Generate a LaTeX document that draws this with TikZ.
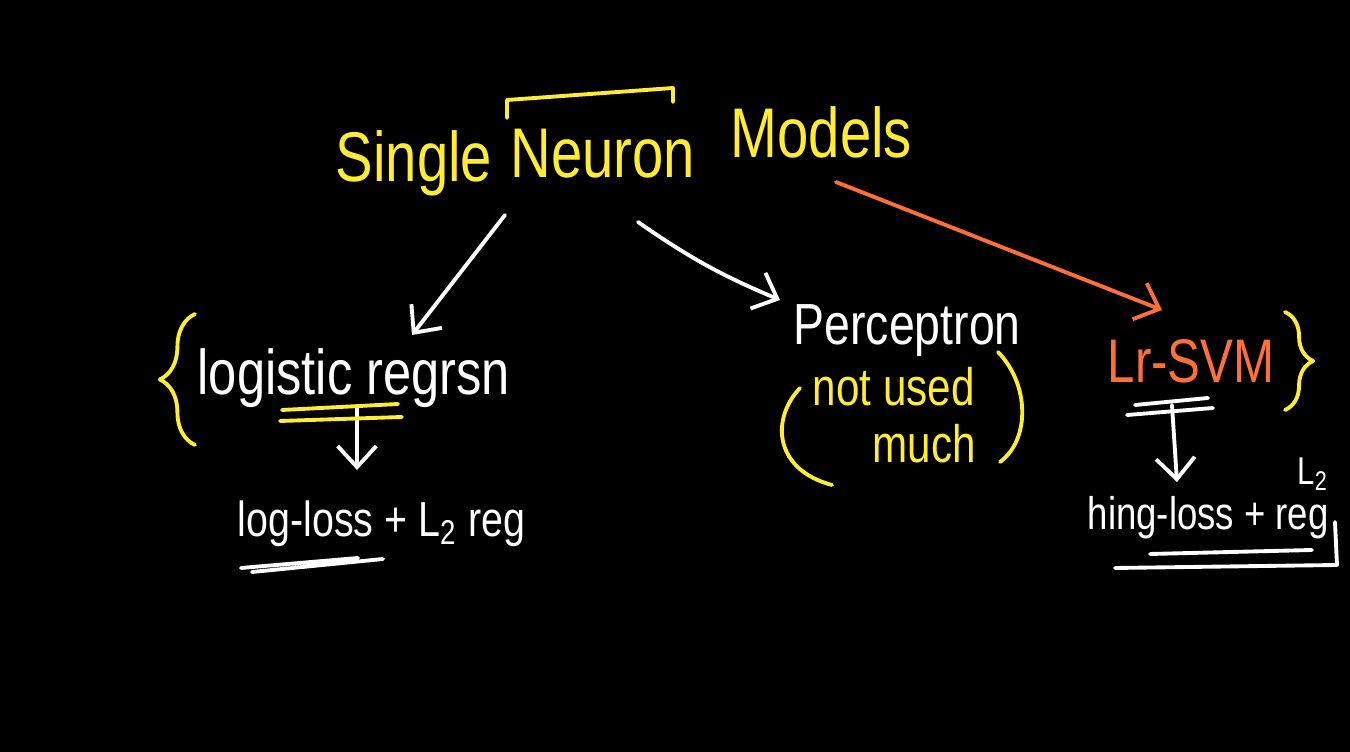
\documentclass[tikz,border=0pt]{standalone}
\usepackage{fontspec}
\setmainfont[FakeStretch=0.8]{Liberation Sans}
\usetikzlibrary{backgrounds,arrows.meta,decorations.pathreplacing,calc}
\definecolor{penyellow}{RGB}{255,236,51}
\definecolor{penorange}{RGB}{255,112,56}
\tikzset{
  board/.style = {
    x=0.01cm, y=-0.01cm,
    color=white,
    background rectangle/.style={fill=black},
    show background rectangle,
    inner frame sep=0pt
  }
}
\tikzset{
  ink/.style = {line width=1.1pt, line cap=round, line join=round},
  word/.style = {inner sep=0pt, anchor=base west, text=white, font=\fontsize{17}{20}\selectfont},
  small/.style = {word, font=\fontsize{14}{17}\selectfont},
  title/.style = {word, text=penyellow, font=\fontsize{20}{24}\selectfont},
  curly/.style = {ink, penyellow, decorate, decoration={brace, amplitude=#1}}
}
\tikzset{>={Straight Barb[length=6pt,width=11pt]}}

\begin{document}
\begin{tikzpicture}[board]
  \useasboundingbox (0,0) rectangle (1350,752);

  \node[title] (single) at (335,182) {Single};
  \node[title] (neuron) at (510,178) {Neuron};
  \node[title] (models) at (730,158) {Models};
  \draw[ink, penyellow] ($(neuron.base west)+(-3,-60)$) -- ++(0,-18)
    -- ($(neuron.base west)+(163,-90)$) -- ++(0,14);

  \node[word, font=\fontsize{18}{21}\selectfont] (logreg) at (197,395) {logistic regrsn};
  \node[small] (logloss) at (237,537) {log-loss + L\textsubscript{2} reg};
  \node[word, font=\fontsize{16.5}{20}\selectfont] (percep) at (793,345) {Perceptron};
  \node[small, text=penyellow, font=\fontsize{15}{18}\selectfont] (notused) at (812,406) {not used};
  \node[small, text=penyellow, font=\fontsize{15}{18}\selectfont] (much) at (872,463) {much};
  \node[word, text=penorange, font=\fontsize{17.5}{20}\selectfont] (lrsvm) at (1107,383) {Lr-SVM};
  \node[small, font=\fontsize{13}{16}\selectfont] (hinge) at (1087,530) {hing-loss + reg};
  \node[word, font=\fontsize{11}{13}\selectfont] (ltwo) at (1297,485) {L\textsubscript{2}};

  \draw[ink, ->] ($(neuron.base west)+(-5,37)$) -- ($(logreg.base west)+(215,-60)$);
  \draw[ink, ->] ($(neuron.base west)+(128,44)$) to[bend right=6] ($(percep.base west)+(-13,-45)$);
  \draw[ink, penorange, ->] ($(models.base west)+(106,24)$) -- ($(lrsvm.base west)+(55,-73)$);
  \draw[ink, ->] ($(logreg.base west)+(160,13)$) -- ($(logloss.base west)+(120,-67)$);
  \draw[ink, ->] ($(lrsvm.base west)+(65,22)$) -- ($(hinge.base west)+(90,-48)$);

  \draw[curly=10pt] (195,445) -- (195,314);
  \draw[curly=8pt] (1285,312) -- (1285,410);
  \draw[ink, penyellow] (800,388) .. controls (770,420) and (775,470) .. (832,485);
  \draw[ink, penyellow] (998,352) .. controls (1030,385) and (1030,440) .. (1000,462);

  \draw[ink, penyellow] (282,410) -- (398,404) (280,421) -- (402,417);
  \draw[ink] (241,568) -- (358,558) (252,572) -- (383,559);
  \draw[ink] (1135,405) -- (1208,398) (1127,415) -- (1213,408);
  \draw[ink] (1150,554) -- (1312,550) (1115,568) -- (1337,565) -- (1335,522);
\end{tikzpicture}
\end{document}
